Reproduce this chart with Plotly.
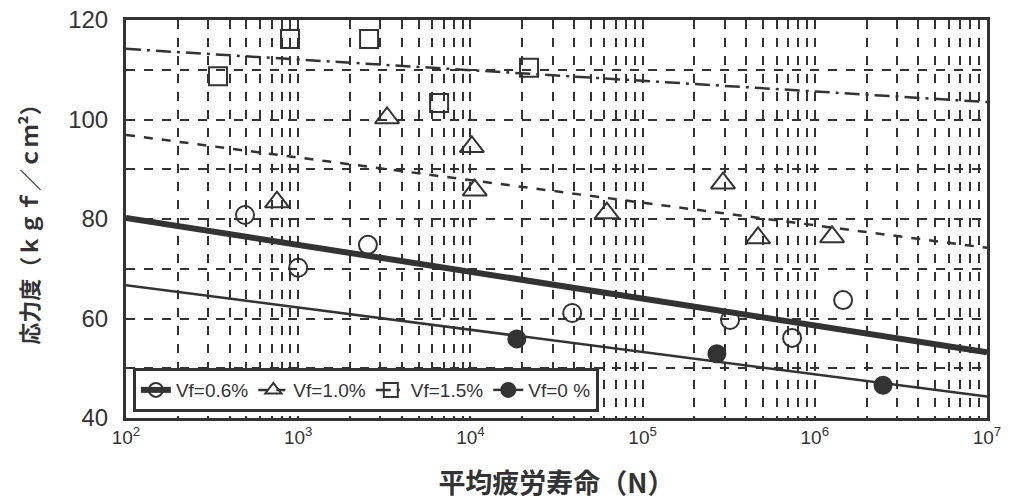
import plotly.graph_objects as go

# ---- data ----
# Vf = 0.6 % (open circles)
n_06 = [491, 1000, 2540, 39000, 322000, 738000, 1460000]
s_06 = [80.8, 70.2, 74.8, 61.1, 59.7, 56.1, 63.7]
# Vf = 1.0 % (open triangles)
n_10 = [753, 3280, 10200, 10600, 62000, 293000, 468000, 1260000]
s_10 = [83.4, 100.3, 94.5, 85.8, 81.2, 87.2, 76.2, 76.4]
# Vf = 1.5 % (open squares)
n_15 = [342, 896, 2580, 6580, 21900]
s_15 = [108.7, 116.2, 116.2, 103.3, 110.4]
# Vf = 0 % (filled circles)
n_00 = [18600, 270000, 2490000]
s_00 = [55.9, 52.9, 46.6]

# fitted S-N lines (endpoints at N = 1e2 and 1e7)
fit_n = [1e2, 1e7]
fit_06 = [80.2, 53.2]
fit_10 = [96.9, 74.2]
fit_15 = [114.2, 103.5]
fit_00 = [66.7, 44.3]

x_tick_vals = [1e2, 1e3, 1e4, 1e5, 1e6, 1e7]
x_tick_text = ["10<sup>2</sup>", "10<sup>3</sup>", "10<sup>4</sup>",
               "10<sup>5</sup>", "10<sup>6</sup>", "10<sup>7</sup>"]
y_tick_vals = [40, 60, 80, 100, 120]

INK = "#333333"
fig = go.Figure()

series = [
    ("Vf=0.6%", n_06, s_06, fit_06, "circle-open", dict(width=6), 18),
    ("Vf=1.0%", n_10, s_10, fit_10, "triangle-up-open", dict(width=2.5, dash="dash"), 21),
    ("Vf=1.5%", n_15, s_15, fit_15, "square-open", dict(width=2.5, dash="longdashdot"), 18),
    ("Vf=0 %", n_00, s_00, fit_00, "circle", dict(width=2.5), 17),
]
for name, nx, sy, fy, sym, ln, sz in series:
    fig.add_trace(go.Scatter(
        x=fit_n, y=fy, mode="lines", line=dict(color=INK, **ln),
        showlegend=False, hoverinfo="skip"))
    fig.add_trace(go.Scatter(
        x=nx, y=sy, mode="markers", name=name,
        marker=dict(symbol=sym, size=sz, color=INK, line=dict(color=INK, width=2)),
        showlegend=False))
    # legend entry: line + marker
    fig.add_trace(go.Scatter(
        x=[None], y=[None], mode="lines+markers", name=name,
        line=dict(color=INK, **ln),
        marker=dict(symbol=sym, size=14, color=INK, line=dict(color=INK, width=2))))

fig.update_layout(
    width=1010, height=504,
    margin=dict(l=126, r=23, t=20, b=86, autoexpand=False),
    paper_bgcolor="white", plot_bgcolor="white",
    font=dict(family="Liberation Sans, Arial, sans-serif", color=INK),
    legend=dict(orientation="h", x=0.008, y=0.015, xanchor="left", yanchor="bottom",
                bgcolor="white", bordercolor=INK, borderwidth=3,
                font=dict(size=19, color=INK), itemwidth=30,
                tracegroupgap=0, valign="middle"),
    xaxis=dict(
        type="log", range=[2, 7],
        tickvals=x_tick_vals, ticktext=x_tick_text,
        tickfont=dict(size=19, color=INK), ticklabeloverflow="allow",
        showgrid=True, gridcolor=INK, griddash="dash", gridwidth=1.5,
        minor=dict(dtick="D1", showgrid=True, gridcolor=INK, griddash="dash", gridwidth=1.5),
        showline=True, linecolor=INK, linewidth=3, mirror=True,
        ticks="", zeroline=False, automargin=False,
        title=dict(text="平均疲労寿命（N）",
                   font=dict(family="Noto Sans CJK JP", size=27, color=INK, weight=700),
                   standoff=28),
    ),
    yaxis=dict(
        range=[40, 120], tickvals=y_tick_vals,
        tickfont=dict(size=24, color=INK), ticklabeloverflow="allow",
        ticks="outside", ticklen=10, tickcolor="rgba(0,0,0,0)",
        showgrid=True, gridcolor=INK, griddash="dash", gridwidth=1.5,
        minor=dict(dtick=10, showgrid=True, gridcolor=INK, griddash="dash", gridwidth=1.5),
        showline=True, linecolor=INK, linewidth=3, mirror=True,
        zeroline=False, automargin=False,
        title=dict(text="応力度（ｋｇｆ／ｃｍ²）",
                   font=dict(family="Noto Sans CJK JP", size=22, color=INK, weight=700),
                   standoff=24),
    ),
)

# remove the page's default body margin so the figure fills the window exactly
fig.write_html("out.html",
               config={"displayModeBar": False},
               post_script="document.body.style.margin='0';document.body.style.overflow='hidden';")
